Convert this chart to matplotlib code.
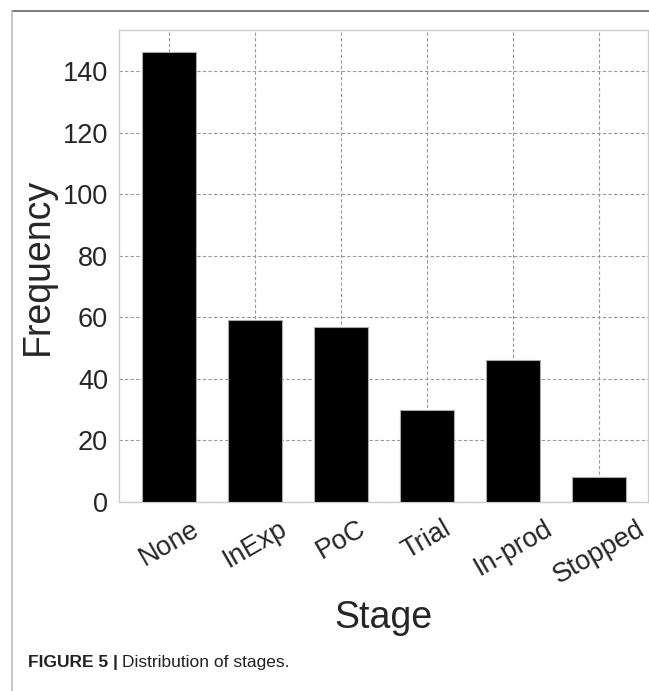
import matplotlib.pyplot as plt
from matplotlib.lines import Line2D

# data
stages = ["None", "InExp", "PoC", "Trial", "In-prod", "Stopped"]
frequency = [146, 59, 57, 30, 46, 8]
y_ticks = [0, 20, 40, 60, 80, 100, 120, 140]

plt.rcParams['font.family'] = ['Liberation Sans', 'DejaVu Sans']

W, H = 649, 691
fig = plt.figure(figsize=(W / 100, H / 100), dpi=100)
ax = fig.add_axes([119 / W, 1 - 502 / H, (648 - 119) / W, (502 - 30) / H])

x = list(range(len(stages)))
ax.bar(x, frequency, width=0.63, color="black", edgecolor="#aaaaaa", linewidth=0.8, zorder=3)

ax.set_xlim(-0.58, 5.57)
ax.set_ylim(0, 153.3)
ax.set_yticks(y_ticks)
ax.set_xticks(x)
ax.set_xticklabels(stages, rotation=30, ha="center")

ax.grid(True, color="#999999", linestyle=(0, (3, 2)), linewidth=0.8, zorder=0)
ax.set_axisbelow(True)
for s in ax.spines.values():
    s.set_color("#cccccc")
    s.set_linewidth(1.0)
ax.tick_params(axis="both", length=0, labelsize=19.5, labelcolor="#262626")
ax.tick_params(axis="y", pad=8)
ax.tick_params(axis="x", pad=10)

ax.set_ylabel("Frequency", fontsize=27, color="#262626", labelpad=5)
ax.set_xlabel("Stage", fontsize=27, color="#262626", labelpad=8)

# page frame lines
fig.add_artist(Line2D([12 / W, 1], [1 - 11 / H, 1 - 11 / H], color="#666666", lw=1.2))
fig.add_artist(Line2D([12 / W, 12 / W], [0, 1 - 11 / H], color="#bbbbbb", lw=1.2))

# caption: bold part, then the rest right after it
cap_y = 1 - 667 / H
t1 = fig.text(28 / W, cap_y, "FIGURE 5 |", fontsize=12.5, fontweight="bold", color="#222222")
fig.canvas.draw()
bb = t1.get_window_extent()
fig.text((bb.x1 + 4) / W, cap_y, "Distribution of stages.", fontsize=12.5, color="#222222")

fig.savefig("out.png", dpi=100)
